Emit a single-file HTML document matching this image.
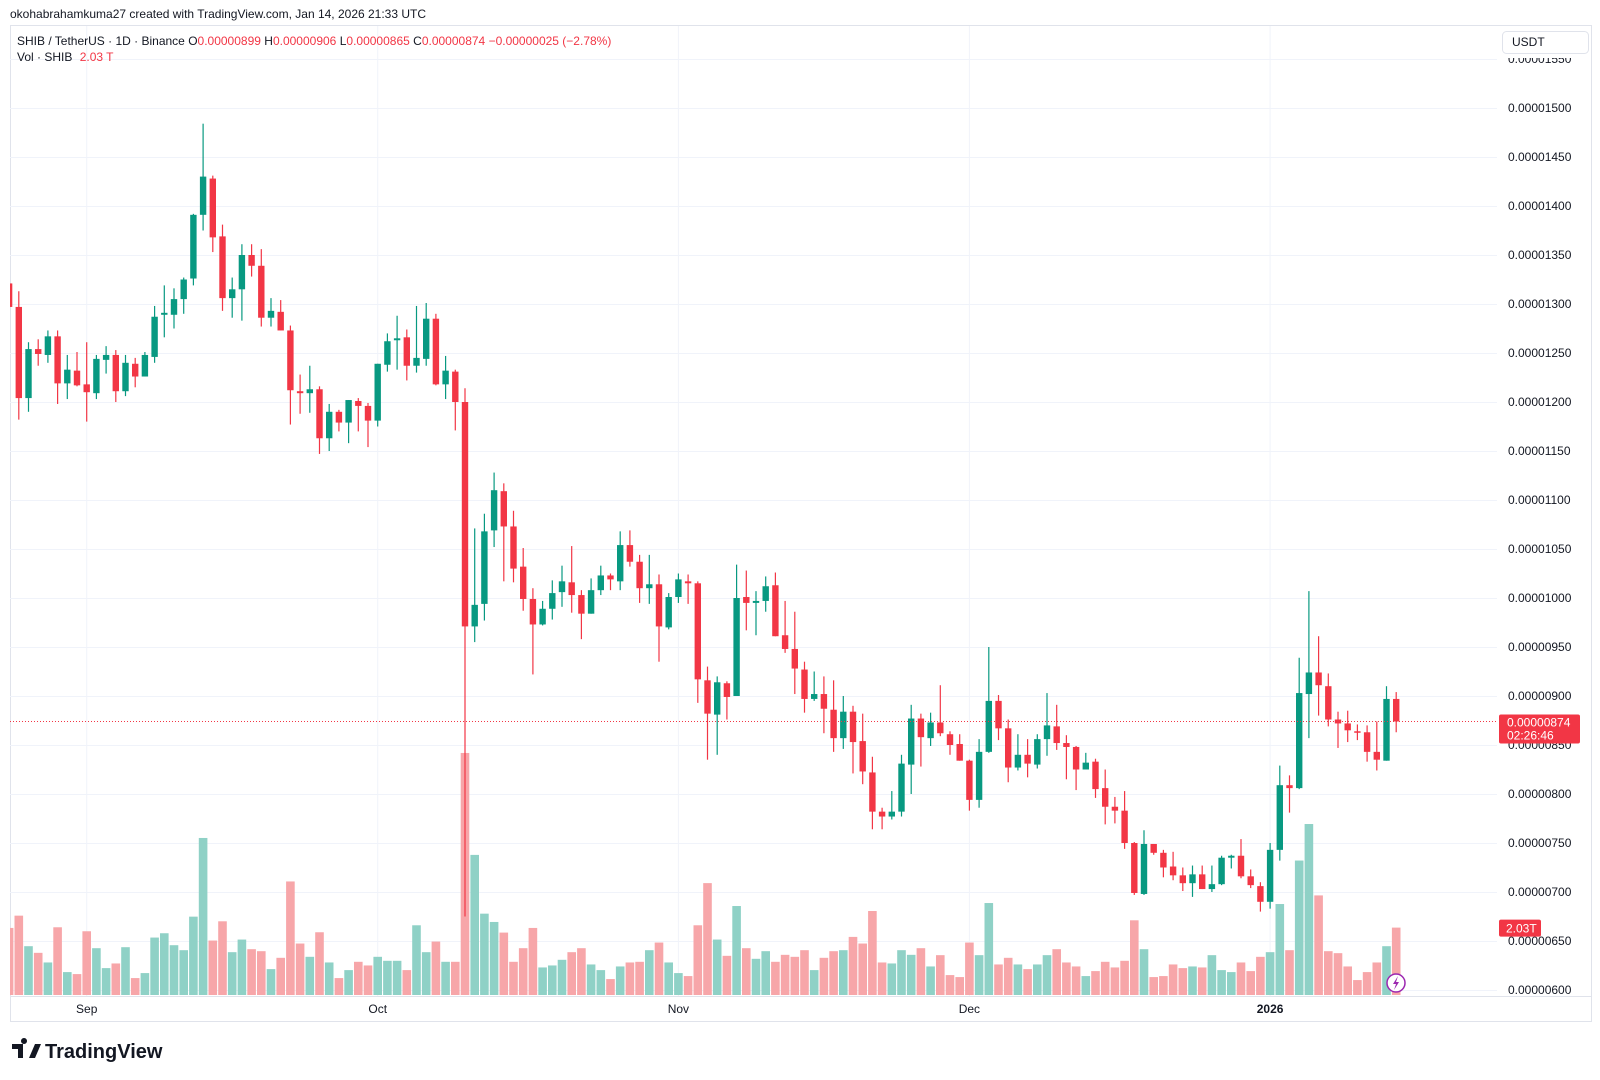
<!DOCTYPE html>
<html><head><meta charset="utf-8"><style>
html,body{margin:0;padding:0;background:#fff;}
svg{display:block;font-family:"Liberation Sans",sans-serif;}
</style></head><body>
<svg id="chart" width="1600" height="1080" viewBox="0 0 1600 1080" xmlns="http://www.w3.org/2000/svg">
<defs><clipPath id="pane"><rect x="10" y="26" width="1487" height="970"/></clipPath>
<clipPath id="axisClip"><rect x="1497" y="58" width="94" height="938"/></clipPath></defs>
<text x="10" y="18" font-size="12" fill="#131722">okohabrahamkuma27 created with TradingView.com, Jan 14, 2026 21:33 UTC</text>
<rect x="10.5" y="25.5" width="1581" height="996" fill="none" stroke="#e0e3eb"/>
<g id="grid"></g>
<g id="vols" clip-path="url(#pane)"></g>
<g id="candles" clip-path="url(#pane)"></g>
<g id="yaxis"></g>
<g id="xaxis"></g>
<line x1="10" y1="996.5" x2="1591" y2="996.5" stroke="#e0e3eb"/>
<g>
<text x="17" y="45" font-size="12" fill="#131722">SHIB / TetherUS · 1D · Binance <tspan fill="#131722">O</tspan><tspan fill="#F23645">0.00000899</tspan> <tspan fill="#131722">H</tspan><tspan fill="#F23645">0.00000906</tspan> <tspan fill="#131722">L</tspan><tspan fill="#F23645">0.00000865</tspan> <tspan fill="#131722">C</tspan><tspan fill="#F23645">0.00000874</tspan> <tspan fill="#F23645">−0.00000025 (−2.78%)</tspan></text>
<text x="17" y="61" font-size="12" fill="#131722">Vol · SHIB <tspan fill="#F23645" dx="4">2.03 T</tspan></text>
</g>
<g>
<rect x="1502.5" y="31.5" width="86" height="22" rx="4" fill="#fff" stroke="#e0e3eb"/>
<text x="1512" y="46" font-size="12" fill="#131722">USDT</text>
</g>
<g>
<path d="M12 1044h11v14h-5v-9h-6z M24 1044a3 3 0 1 1 0.01 0z" fill="#131722"/>
<path d="M29 1058l6-14h6l-6 14z" fill="#131722"/>
<text x="45" y="1058" font-size="20" font-weight="bold" fill="#131722">TradingView</text>
</g>
<g>
<circle cx="1396" cy="983" r="9" fill="#fff" stroke="#9c27b0" stroke-width="1.5"/>
<path d="M1398 976l-5 8h3l-2 6 5-8h-3z" fill="#9c27b0"/>
</g>
</svg>
<script>
const opens=[1321,1297,1204,1254,1248,1267,1219,1232,
1218,1209,1243,1248,1211,1239,1226,1246,1289,1289,1305,1326,1391,1428,1369,1306,1315,1350,1339,1286,1292,1273,1211,1209,1213,1163,1190,1179,1201,1196,
1181,1238,1263,1266,1237,1244,1285,1218,1231,1200,971,994,1069,1109,1073,1032,999,973,989,1006,1016,1003,984,1008,1023,1017,1054,1037,1010,1014,970,
1001,1017,1015,916,881,913,900,1001,995,997,1013,962,948,927,897,902,886,857,884,854,822,782,777,782,830,877,857,873,861,851,
834,794,843,895,867,827,840,830,856,869,852,848,825,833,806,787,783,750,698,749,740,726,717,709,718,703,708,735,737,716,706,
690,743,809,806,902,924,910,876,872,864,863,843,834,897];
const closes=[1297,1204,1254,1249,1267,1219,1233,1217,
1210,1244,1248,1211,1240,1226,1248,1287,1291,1305,1325,1391,1430,1368,1306,1315,1350,1339,1286,1293,1273,1212,1209,1213,1163,1190,1179,1202,1196,1181,
1239,1262,1265,1237,1245,1285,1218,1232,1200,971,993,1068,1110,1073,1030,999,973,989,1005,1017,1003,984,1008,1023,1019,1054,1037,1010,1014,971,1001,
1019,1015,917,882,914,899,1000,995,997,1012,961,948,928,897,902,887,857,884,853,823,782,777,782,831,877,858,873,862,850,834,
794,843,895,867,827,840,831,856,870,852,848,825,832,805,787,783,750,699,749,740,725,717,709,718,703,708,735,737,716,707,690,
743,809,806,903,924,911,876,872,865,863,843,835,897,874];
const highs=[1328,1313,1261,1264,1273,1273,1248,1251,
1261,1248,1257,1253,1248,1245,1251,1298,1319,1316,1327,1392,1484,1431,1381,1327,1361,1361,1356,1306,1304,1278,1228,1237,1216,1198,1192,1202,1204,1199,
1239,1270,1288,1274,1298,1301,1290,1247,1233,1214,1071,1086,1128,1117,1089,1051,1010,997,1018,1033,1053,1008,1020,1033,1025,1068,1069,1044,1044,1024,1005,
1025,1024,1017,930,920,915,1034,1028,1007,1022,1026,997,986,935,925,920,916,900,890,882,838,786,803,840,891,882,883,911,864,861,
835,856,950,901,876,861,856,861,903,891,860,849,842,836,825,797,803,751,763,749,743,741,725,727,727,727,737,738,754,723,710,
750,829,819,939,1007,961,923,884,885,871,870,874,910,904];
const lows=[1295,1182,1190,1237,1240,1198,1203,1216,
1180,1203,1229,1200,1206,1215,1226,1240,1266,1275,1290,1319,1375,1353,1293,1286,1283,1328,1277,1277,1273,1177,1188,1189,1147,1150,1170,1158,1170,1154,
1175,1231,1233,1222,1230,1237,1217,1203,1171,675,955,977,1052,1017,1016,987,922,972,978,991,985,958,984,1003,1008,1008,1032,995,994,935,968,
995,994,893,835,840,876,900,967,962,986,961,944,902,883,895,862,843,846,821,810,764,764,774,777,800,828,849,859,840,834,
783,786,842,855,812,824,817,826,839,845,815,804,825,796,769,770,744,697,697,738,715,712,701,695,703,700,707,724,714,704,680,
683,732,781,805,857,880,869,847,853,855,833,824,834,863];
const volumes=[2.02,2.39,1.47,1.27,0.98,2.04,0.69,0.63,
1.92,1.41,0.81,0.95,1.44,0.51,0.66,1.73,1.86,1.50,1.35,2.36,4.73,1.64,2.22,1.29,1.67,1.38,1.32,0.78,1.12,3.42,1.55,1.15,1.89,0.98,0.51,0.75,1.00,0.89,
1.15,1.03,1.03,0.75,2.10,1.29,1.61,1.00,1.00,7.29,4.22,2.45,2.20,1.88,1.00,1.41,2.02,0.83,0.89,1.06,1.29,1.41,0.92,0.75,0.48,0.86,0.98,1.00,1.35,1.58,0.98,
0.66,0.57,2.10,3.37,1.67,1.18,2.68,1.41,1.09,1.32,1.00,1.21,1.15,1.35,0.75,1.12,1.32,1.35,1.75,1.55,2.53,0.98,0.95,1.35,1.21,1.41,0.86,1.20,0.60,0.54,
1.58,1.20,2.77,0.92,1.12,0.92,0.78,0.92,1.20,1.38,0.98,0.86,0.57,0.72,1.00,0.83,1.03,2.25,1.38,0.54,0.57,0.92,0.81,0.86,0.83,1.20,0.75,0.69,0.98,0.72,1.15,
1.29,2.74,1.35,4.05,5.15,3.00,1.32,1.26,0.86,0.45,0.69,0.98,1.47,2.03];
const priceTicks=[600,650,700,750,800,850,900,950,1000,1050,1100,1150,1200,1250,1300,1350,1400,1450,1500,1550];
const monthLabels=["Sep","Oct","Nov","Dec","2026"];
const monthDayIdx=[8,38,69,99,130];
const lastPrice=874;
const lastVolume=2.03;

const NS="http://www.w3.org/2000/svg";
function xAt(i){return 86.7+(i-8)*9.7;}
function yAt(p){return 108+(1500-p)*0.98;}
function vY(v){return 995-v*33.2;}
function mk(tag,attrs,parent){const e=document.createElementNS(NS,tag);for(const k in attrs)e.setAttribute(k,attrs[k]);parent.appendChild(e);return e;}
const G="#089981",R="#F23645";
const grid=document.getElementById('grid');
priceTicks.forEach(p=>{const l=mk('line',{x1:10,x2:1497,y1:yAt(p)+0.5,y2:yAt(p)+0.5,stroke:'#f0f3fa'},grid);

});
monthDayIdx.forEach(i=>{const l=mk('line',{x1:xAt(i),x2:xAt(i),y1:26,y2:996,stroke:'#f0f3fa'},grid);

});
const ya=document.getElementById('yaxis');
const yag=mk('g',{'clip-path':'url(#axisClip)'},ya);
priceTicks.forEach(p=>{const t=mk('text',{x:1508,y:yAt(p)+4,'font-size':12,fill:'#131722'},yag);t.textContent=(p/1e8).toFixed(8);

});
const xa=document.getElementById('xaxis');
monthLabels.forEach((m,k)=>{const t=mk('text',{x:xAt(monthDayIdx[k]),y:1013,'font-size':12,fill:'#131722','text-anchor':'middle','font-weight':m==='2026'?'bold':'normal'},xa);t.textContent=m;

});
const vg=document.getElementById('vols');
volumes.forEach((v,i)=>{const up=closes[i]>=opens[i];const r=mk('rect',{x:xAt(i)-4.3,y:vY(v),width:8.6,height:995-vY(v),fill:up?'#8fd1c6':'#f7a6a9'},vg);

});
const cg=document.getElementById('candles');
opens.forEach((o,i)=>{const c=closes[i];const up=c>=o;const col=up?G:R;const x=xAt(i);
const w=mk('line',{x1:x,x2:x,y1:yAt(highs[i]),y2:yAt(lows[i]),stroke:col,'stroke-width':1.2},cg);


const top=yAt(Math.max(o,c)),bot=yAt(Math.min(o,c));
const b=mk('rect',{x:x-3.2,y:top,width:6.4,height:Math.max(1.5,bot-top),fill:col},cg);

});
const ly=yAt(lastPrice);
const pl=mk('line',{x1:10,x2:1497,y1:ly,y2:ly,stroke:R,'stroke-width':1,'stroke-dasharray':'1 2'},document.getElementById('chart'));


const lb=mk('g',{},document.getElementById('chart'));


mk('rect',{x:1499,y:ly-7,width:81,height:29,rx:2,fill:R},lb);
const t1=mk('text',{x:1507,y:ly+5,'font-size':12,fill:'#fff'},lb);t1.textContent=(lastPrice/1e8).toFixed(8);
const t2=mk('text',{x:1507,y:ly+18,'font-size':12,fill:'#fff'},lb);t2.textContent="02:26:46";
const vb=mk('g',{},document.getElementById('chart'));


const vy=vY(lastVolume);
mk('rect',{x:1499,y:vy-8,width:42,height:17,rx:2,fill:R},vb);
const t3=mk('text',{x:1506,y:vy+5,'font-size':12,fill:'#fff'},vb);t3.textContent=lastVolume.toFixed(2)+"T";
</script>
</body></html>
